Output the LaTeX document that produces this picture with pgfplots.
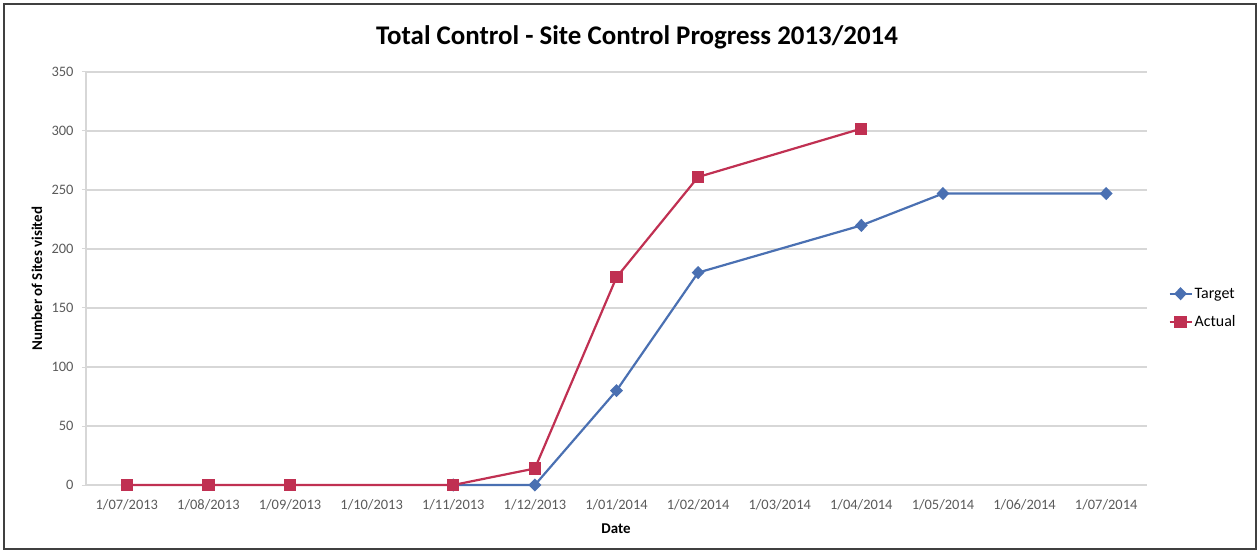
\documentclass[border=0pt]{standalone}
\usepackage{pgfplots}
\pgfplotsset{compat=1.18}
\usepackage{fontspec}
\setmainfont{Carlito}
\definecolor{tgt}{RGB}{74,112,178}
\definecolor{act}{RGB}{192,48,82}
\definecolor{gridc}{RGB}{215,215,215}
\definecolor{tickc}{RGB}{90,90,90}
\begin{document}
\begin{tikzpicture}
\useasboundingbox (-86bp,-68bp) rectangle (1174bp,485bp);
\draw[black!75, line width=1.6bp] (-82bp,-64bp) rectangle (1170bp,481bp);
\begin{axis}[
  at={(0,0)}, anchor=south west,
  scale only axis, width=1061bp, height=413bp,
  xmin=-0.5, xmax=12.5, ymin=0, ymax=350,
  xtick={0,...,12},
  xticklabels={1/07/2013,1/08/2013,1/09/2013,1/10/2013,1/11/2013,1/12/2013,1/01/2014,1/02/2014,1/03/2014,1/04/2014,1/05/2014,1/06/2014,1/07/2014},
  ytick={0,50,...,350},
  axis x line=bottom, axis y line=left,
  axis line style={-, gridc, line width=1.2bp},
  x axis line style={draw=none},
  ymajorgrids, grid style={gridc, line width=1.4bp},
  xtick style={draw=none},
  ytick style={gridc, line width=1bp},
  tick align=outside, major tick length=4bp,
  /pgf/number format/assume math mode=true,
  tick label style={font=\fontsize{14.5}{16}\selectfont, text=tickc},
  xticklabel style={yshift=-7bp},
  yticklabel style={xshift=-5bp},
  xlabel={\textbf{Date}},
  ylabel={\textbf{Number of Sites visited}},
  label style={font=\fontsize{15}{17}\selectfont},
  xlabel style={at={(axis description cs:0.4995,-0.1065)}, anchor=center},
  ylabel style={at={(axis description cs:-0.0462,0.5)}, anchor=center, rotate=0},
  legend style={at={(axis description cs:1.020,0.4286)}, anchor=west, draw=none, fill=none,
    font=\fontsize{16}{18}\selectfont, row sep=12bp, inner sep=0pt,
    /tikz/every even column/.append style={column sep=2bp}},
  legend cell align=left,
  legend image code/.code={\draw[mark repeat=2,mark phase=2,#1] plot coordinates {(0bp,0bp) (11bp,0bp) (22bp,0bp)};},
  clip=false,
]
\addplot[tgt, line width=2.2bp, mark=diamond*, mark size=5bp, mark options={xscale=1.3}] coordinates {
  (4,0) (5,0) (6,80) (7,180) (9,220) (10,247) (12,247)
};
\addlegendentry{Target}
\addplot[act, line width=2.2bp, mark=square*, mark size=5bp] coordinates {
  (0,0) (1,0) (2,0) (4,0) (5,14) (6,176) (7,261) (9,302)
};
\addlegendentry{Actual}
\end{axis}
\node[font=\bfseries\fontsize{27}{30}\selectfont, anchor=center] at (551bp,448bp) {Total Control - Site Control Progress 2013/2014};
\end{tikzpicture}
\end{document}
